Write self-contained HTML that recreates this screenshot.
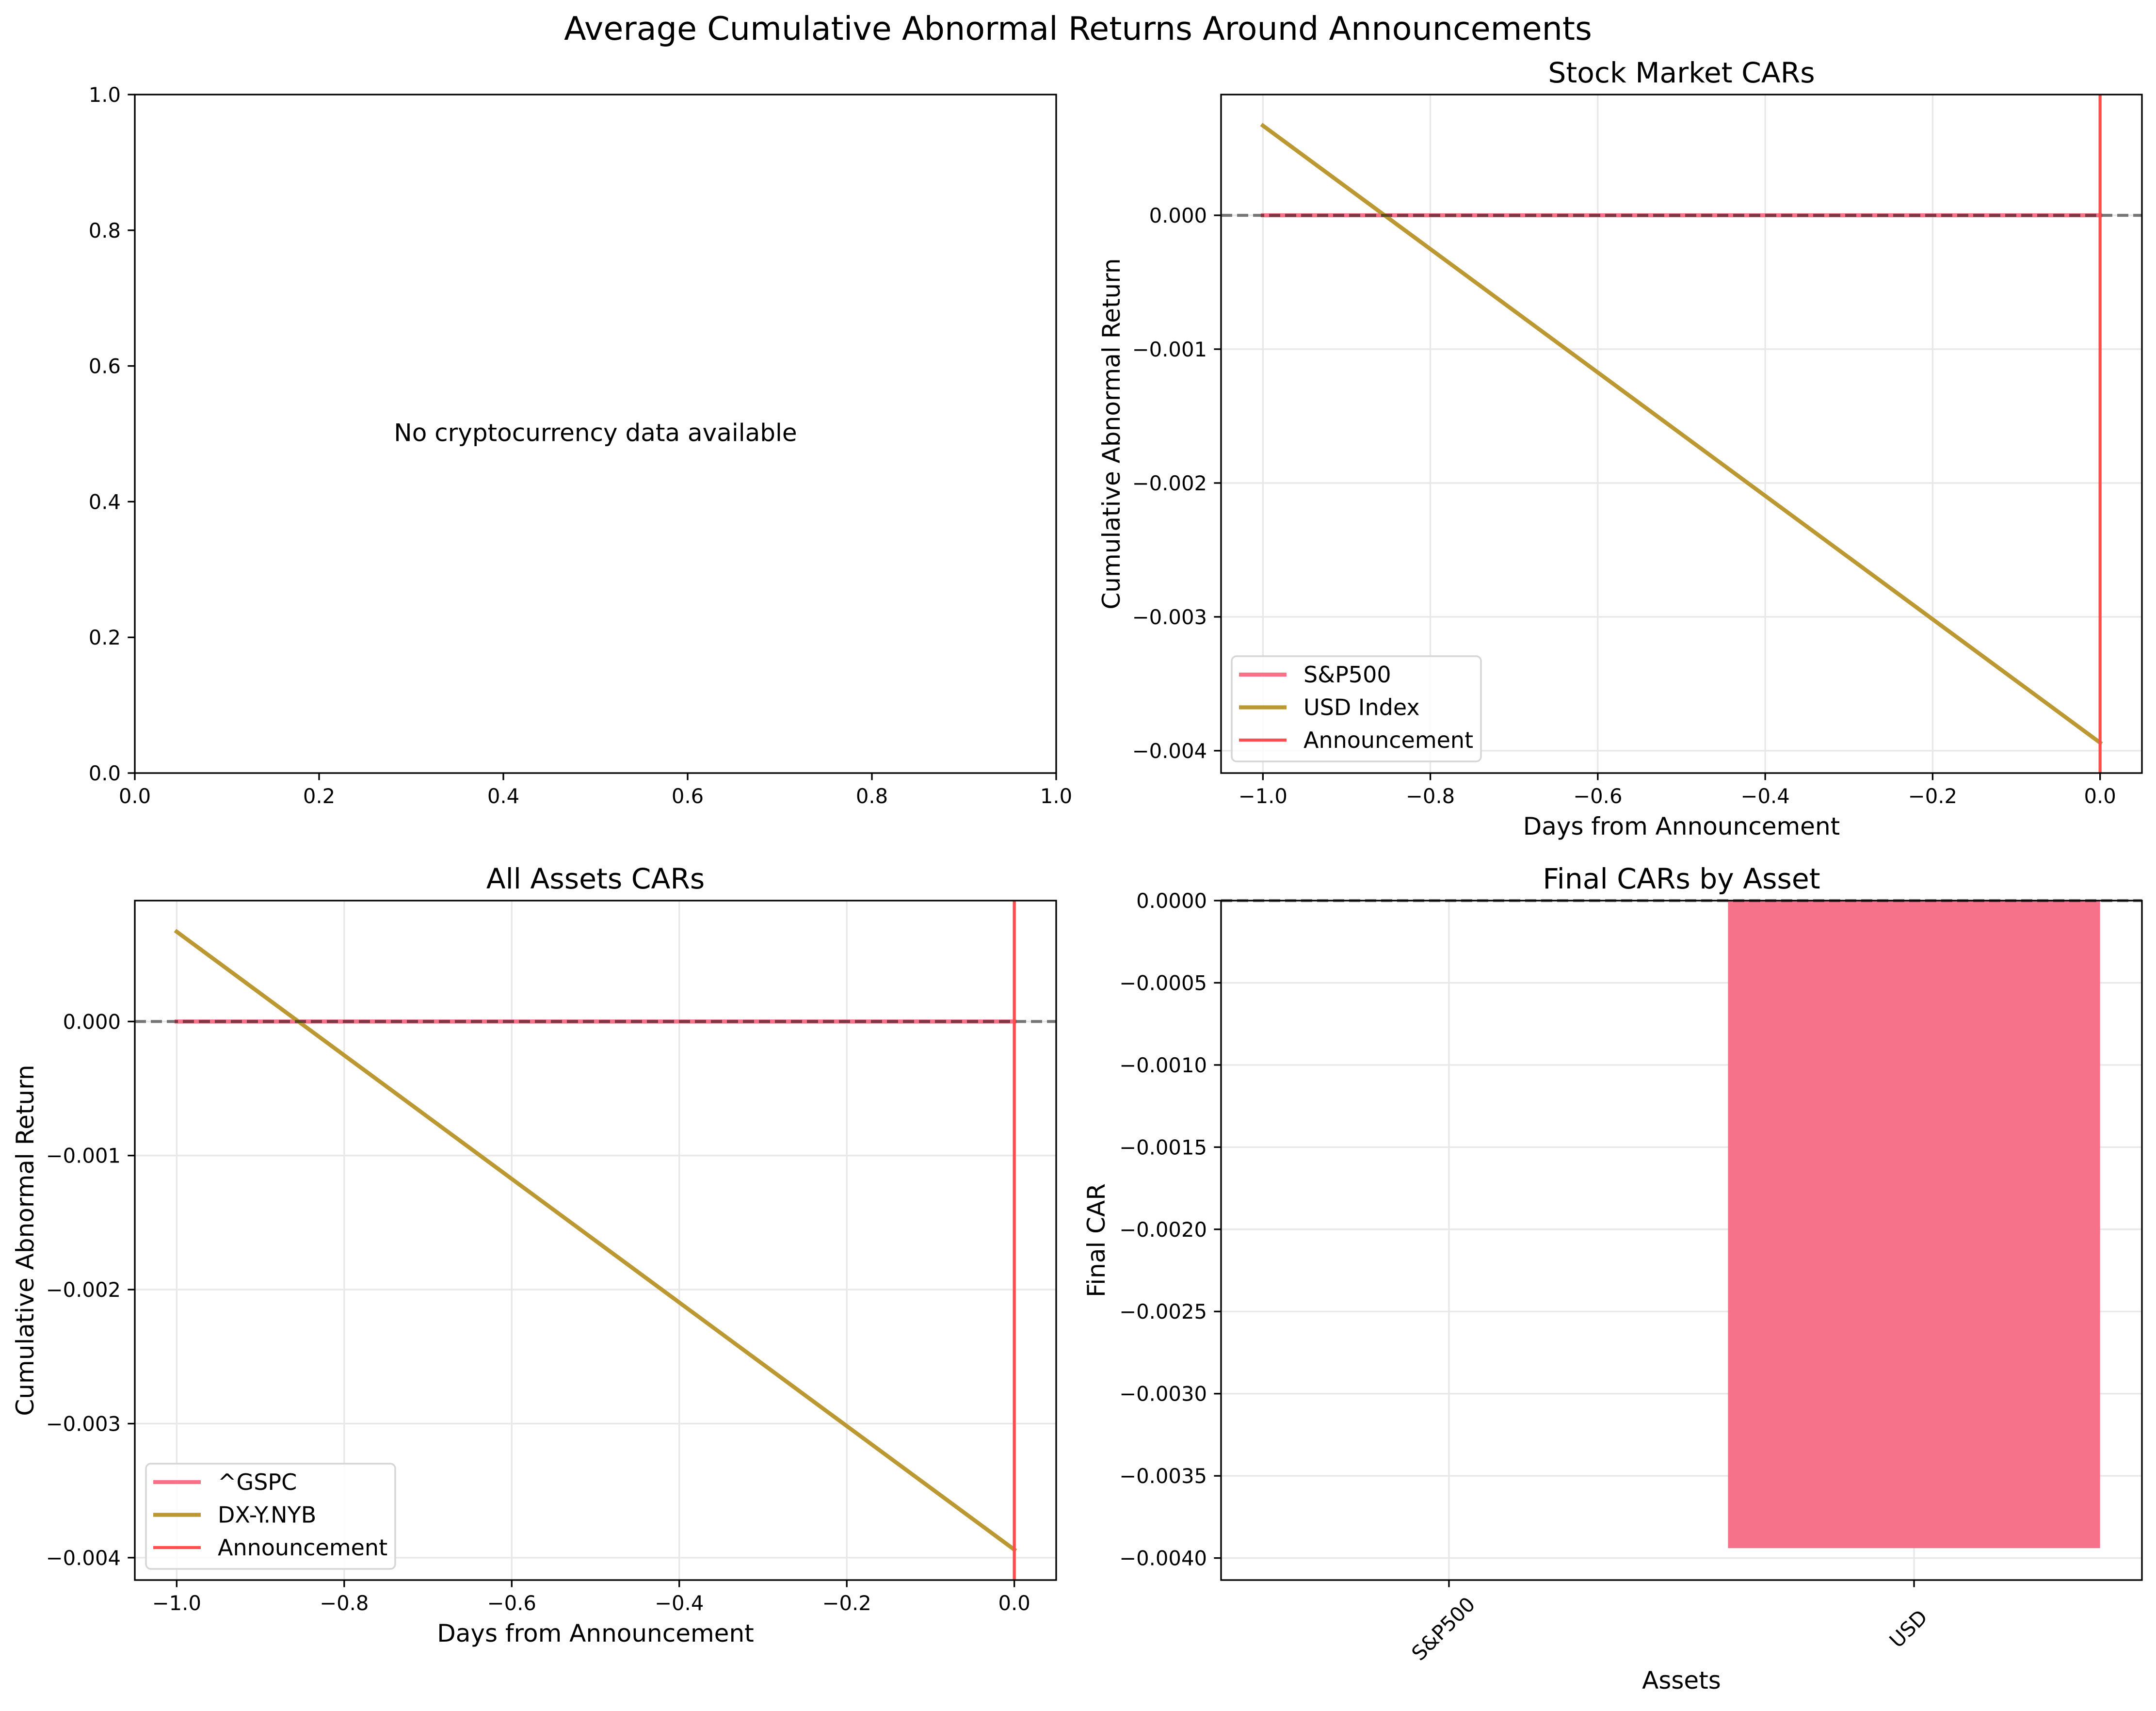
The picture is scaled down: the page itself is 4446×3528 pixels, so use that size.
<!DOCTYPE html>
<html>
<head>
<meta charset="utf-8">
<style>
html,body{margin:0;padding:0;background:#fff;}
svg{display:block;font-family:"DejaVu Sans","Liberation Sans",sans-serif;}
</style>
</head>
<body>
<svg id="fig" width="4446" height="3528" viewBox="0 0 4446 3528" xmlns="http://www.w3.org/2000/svg">
<rect x="0" y="0" width="4446" height="3528" fill="#fff"/>
<text x="2223" y="82" font-size="66.7" text-anchor="middle">Average Cumulative Abnormal Returns Around Announcements</text>
</svg>
<script>
// ---- data ----
const days = [-1, 0];
const sp500Car = [0, 0];
const usdCar = [0.00067, -0.00394];
const assetNames = ['S&P500', 'USD'];
const finalCars = [0, -0.00394];
const lineXTicks = [-1.0, -0.8, -0.6, -0.4, -0.2, 0.0];
const lineXTickLabels = ['\u22121.0', '\u22120.8', '\u22120.6', '\u22120.4', '\u22120.2', '0.0'];
const lineYTicks = [0, -0.001, -0.002, -0.003, -0.004];
const lineYTickLabels = ['0.000', '\u22120.001', '\u22120.002', '\u22120.003', '\u22120.004'];
const barYTicks = [0, -0.0005, -0.001, -0.0015, -0.002, -0.0025, -0.003, -0.0035, -0.004];
const barYTickLabels = ['0.0000', '\u22120.0005', '\u22120.0010', '\u22120.0015', '\u22120.0020', '\u22120.0025', '\u22120.0030', '\u22120.0035', '\u22120.0040'];
const unitTicks = [0, 0.2, 0.4, 0.6, 0.8, 1.0];
const unitTickLabels = ['0.0', '0.2', '0.4', '0.6', '0.8', '1.0'];

const NS = 'http://www.w3.org/2000/svg';
const svg = document.getElementById('fig');
function mk(tag, attrs, parent) {
  const e = document.createElementNS(NS, tag);
  for (const k in attrs) e.setAttribute(k, attrs[k]);
  (parent || svg).appendChild(e);
  return e;
}
function scale(d0, d1, r0, r1) { return v => r0 + (v - d0) / (d1 - d0) * (r1 - r0); }

const C_SP = '#f77189', C_USD = '#bb9832', C_ANN = '#ff4d4d', C_GRID = '#e8e8e8';

function makeAxes(name, x0, x1, y0, y1, xd, yd) {
  const g = mk('g', {});
  
  
  return { g, x0, x1, y0, y1, sx: scale(xd[0], xd[1], x0, x1), sy: scale(yd[0], yd[1], y0, y1) };
}
function xTicks(ax, vals, labels, grid) {
  vals.forEach((v, i) => {
    const x = ax.sx(v);
    if (grid) {
      const gl = mk('line', { x1: x, x2: x, y1: ax.y0, y2: ax.y1, stroke: C_GRID, 'stroke-width': 3.3 }, ax.g);
      
      
    }
    const tm = mk('line', { x1: x, x2: x, y1: ax.y1, y2: ax.y1 + 14.6, stroke: '#000', 'stroke-width': 3.3 }, ax.g);
    
    
    if (labels) {
      const t = mk('text', { x: x, y: ax.y1 + 62, 'font-size': 41.7, 'text-anchor': 'middle' }, ax.g);
      
      
      t.textContent = labels[i];
    }
  });
}
function yTicks(ax, vals, labels, grid) {
  vals.forEach((v, i) => {
    const y = ax.sy(v);
    if (grid) {
      const gl = mk('line', { x1: ax.x0, x2: ax.x1, y1: y, y2: y, stroke: C_GRID, 'stroke-width': 3.3 }, ax.g);
      
      
    }
    const tm = mk('line', { x1: ax.x0 - 14.6, x2: ax.x0, y1: y, y2: y, stroke: '#000', 'stroke-width': 3.3 }, ax.g);
    
    
    const t = mk('text', { x: ax.x0 - 29, y: y + 15, 'font-size': 41.7, 'text-anchor': 'end' }, ax.g);
    
    
    t.textContent = labels[i];
  });
}
function spines(ax) {
  const r = mk('rect', { x: ax.x0, y: ax.y0, width: ax.x1 - ax.x0, height: ax.y1 - ax.y0, fill: 'none', stroke: '#000', 'stroke-width': 3.3 }, ax.g);
  
  
}
function title(ax, txt, name) {
  const t = mk('text', { x: (ax.x0 + ax.x1) / 2, y: ax.y0 - 25, 'font-size': 58.3, 'text-anchor': 'middle' }, ax.g);
  
  
  t.textContent = txt;
}
function xlabel(ax, txt, y) {
  const t = mk('text', { x: (ax.x0 + ax.x1) / 2, y: y, 'font-size': 50, 'text-anchor': 'middle' }, ax.g);
  
  
  t.textContent = txt;
}
function ylabel(ax, txt, x) {
  const cy = (ax.y0 + ax.y1) / 2;
  const t = mk('text', { x: x, y: cy, 'font-size': 50, 'text-anchor': 'middle', transform: `rotate(-90 ${x} ${cy})` }, ax.g);
  
  
  t.textContent = txt;
}
function series(ax, xs, ys, color, name) {
  const pts = xs.map((x, i) => ax.sx(x) + ',' + ax.sy(ys[i])).join(' ');
  const p = mk('polyline', { points: pts, fill: 'none', stroke: color, 'stroke-width': 8.3, 'stroke-linecap': 'square' }, ax.g);
  
  
}
function refLines(ax) {
  const z = ax.sy(0);
  const h = mk('line', { x1: ax.x0, x2: ax.x1, y1: z, y2: z, stroke: '#000', 'stroke-opacity': 0.5, 'stroke-width': 6.25, 'stroke-dasharray': '23 10' }, ax.g);
  
  
  const vx = ax.sx(0);
  const v = mk('line', { x1: vx, x2: vx, y1: ax.y0, y2: ax.y1, stroke: C_ANN, 'stroke-width': 6.25 }, ax.g);
  
  
}
function legend(ax, bx, by, labels, colors, widths) {
  const lg = mk('g', {}, ax.g);
  
  
  const box = mk('rect', { x: bx, y: by, width: 514, height: 217, rx: 10, fill: '#fff', 'fill-opacity': 0.8, stroke: '#d6d6d6', 'stroke-width': 3.5 }, lg);
  
  
  labels.forEach((lab, i) => {
    const y = by + 38 + i * 67.5;
    const l = mk('line', { x1: bx + 15, x2: bx + 113, y1: y, y2: y, stroke: colors[i], 'stroke-width': widths[i] }, lg);
    
    
    const t = mk('text', { x: bx + 148, y: y + 16, 'font-size': 46 }, lg);
    
    
    t.textContent = lab;
  });
}

// ---- Top-left: empty crypto panel ----
const tl = makeAxes('crypto-panel', 278, 2178, 195, 1594, [0, 1], [1, 0]);
xTicks(tl, unitTicks, unitTickLabels, false);
yTicks(tl, unitTicks, unitTickLabels, false);
const msg = mk('text', { x: tl.sx(0.5), y: tl.sy(0.5) + 15, 'font-size': 50, 'text-anchor': 'middle' }, tl.g);


msg.textContent = 'No cryptocurrency data available';
spines(tl);

// ---- Top-right: stock market CARs ----
const tr = makeAxes('stock-market-panel', 2518, 4417, 195, 1594, [-1.05, 0.05], [0.000902, -0.004167]);
xTicks(tr, lineXTicks, lineXTickLabels, true);
yTicks(tr, lineYTicks, lineYTickLabels, true);
series(tr, days, sp500Car, C_SP, 'sp500-line');
series(tr, days, usdCar, C_USD, 'usd-index-line');
refLines(tr);
spines(tr);
title(tr, 'Stock Market CARs', 'stock-market-title');
xlabel(tr, 'Days from Announcement', 1721);
ylabel(tr, 'Cumulative Abnormal Return', 2309);
legend(tr, 2540, 1353, ['S&P500', 'USD Index', 'Announcement'], [C_SP, C_USD, C_ANN], [8.3, 8.3, 6.25]);

// ---- Bottom-left: all assets CARs ----
const bl = makeAxes('all-assets-panel', 278, 2178, 1857, 3258, [-1.05, 0.05], [0.000902, -0.004167]);
xTicks(bl, lineXTicks, lineXTickLabels, true);
yTicks(bl, lineYTicks, lineYTickLabels, true);
series(bl, days, sp500Car, C_SP, 'gspc-line');
series(bl, days, usdCar, C_USD, 'dxy-line');
refLines(bl);
spines(bl);
title(bl, 'All Assets CARs', 'all-assets-title');
xlabel(bl, 'Days from Announcement', 3385);
ylabel(bl, 'Cumulative Abnormal Return', 69);
legend(bl, 301, 3018, ['^GSPC', 'DX-Y.NYB', 'Announcement'], [C_SP, C_USD, C_ANN], [8.3, 8.3, 6.25]);

// ---- Bottom-right: final CARs bar chart ----
const br = makeAxes('final-cars-panel', 2518, 4417, 1857, 3258, [-0.49, 1.49], [0, -0.004134]);
xTicks(br, [0, 1], null, true);
yTicks(br, barYTicks, barYTickLabels, true);
finalCars.forEach((v, i) => {
  const xa = br.sx(i - 0.4), xb = br.sx(i + 0.4);
  const ya = br.sy(Math.max(0, v)), yb = br.sy(Math.min(0, v));
  const b = mk('rect', { x: xa, y: ya, width: xb - xa, height: Math.max(0, yb - ya), fill: '#f6728a', 'fill-opacity': 1 }, br.g);
  
  
});
assetNames.forEach((n, i) => {
  const cx = br.sx(i) - 12, cy = 3358;
  const t = mk('text', { x: cx, y: cy + 15, 'font-size': 41.7, 'text-anchor': 'middle', transform: `rotate(-45 ${cx} ${cy})` }, br.g);
  
  
  t.textContent = n;
});
const bz = mk('line', { x1: br.x0, x2: br.x1, y1: br.sy(0), y2: br.sy(0), stroke: '#000', 'stroke-opacity': 0.5, 'stroke-width': 6.25, 'stroke-dasharray': '23 10' }, br.g);


spines(br);
title(br, 'Final CARs by Asset', 'final-cars-title');
xlabel(br, 'Assets', 3482);
ylabel(br, 'Final CAR', 2278);
</script>
</body>
</html>
